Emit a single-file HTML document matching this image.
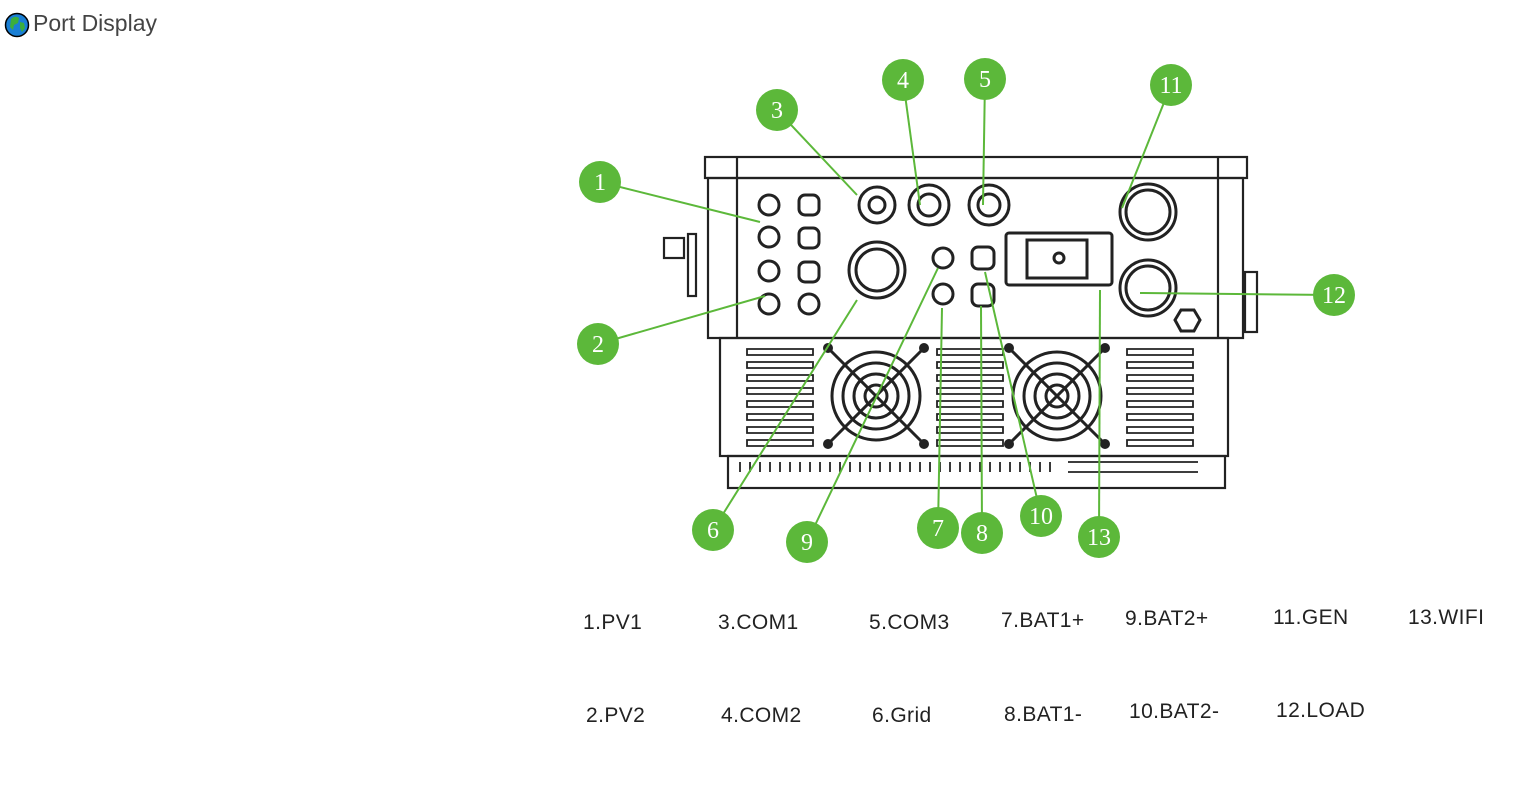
<!DOCTYPE html>
<html><head><meta charset="utf-8"><style>
body{margin:0;background:#fff;width:1515px;height:790px;overflow:hidden;position:relative;font-family:"Liberation Sans",sans-serif}
.h{position:absolute;left:33px;top:10px;font-size:23px;color:#444}
.l{position:absolute;font-size:21px;color:#222;letter-spacing:0.4px}
svg{position:absolute;left:0;top:0}
</style></head><body>
<svg width="1515" height="790" viewBox="0 0 1515 790">
<circle cx="17" cy="25" r="11.5" fill="#1a7fd4" stroke="#000" stroke-width="1.5"/>
<path d="M11 19 q4 -4 8 -1 l-1 5 -4 2 -1 5 -3 -3z M20 22 l4 1 1 5 -3 4 -2 -4z" fill="#3cae3c"/>
<g fill="none" stroke="#222" stroke-width="2.2">
<rect x="705" y="157" width="542" height="21"/>
<rect x="708" y="178" width="535" height="160"/>
<line x1="737" y1="157" x2="737" y2="338"/><line x1="1218" y1="157" x2="1218" y2="338"/>
<rect x="720" y="338" width="508" height="118"/>
<rect x="728" y="456" width="497" height="32"/>
<rect x="664" y="238" width="20" height="20"/><rect x="688" y="234" width="8" height="62"/>
<rect x="1245" y="272" width="12" height="60"/>
</g>
<g fill="none" stroke="#222" stroke-width="3">
<circle cx="769" cy="205" r="10"/><circle cx="769" cy="237" r="10"/><circle cx="769" cy="271" r="10"/><circle cx="769" cy="304" r="10"/>
<rect x="799" y="195" width="20" height="20" rx="6"/><rect x="799" y="228" width="20" height="20" rx="6"/><rect x="799" y="262" width="20" height="20" rx="6"/><circle cx="809" cy="304" r="10"/>
<circle cx="877" cy="205" r="18"/><circle cx="877" cy="205" r="8"/>
<circle cx="929" cy="205" r="20"/><circle cx="929" cy="205" r="11"/>
<circle cx="989" cy="205" r="20"/><circle cx="989" cy="205" r="11"/>
<circle cx="877" cy="270" r="28"/><circle cx="877" cy="270" r="21"/>
<circle cx="943" cy="258" r="10"/><circle cx="943" cy="294" r="10"/>
<rect x="972" y="247" width="22" height="22" rx="6"/><rect x="972" y="284" width="22" height="22" rx="6"/>
<rect x="1006" y="233" width="106" height="52" rx="3"/><rect x="1027" y="240" width="60" height="38"/><circle cx="1059" cy="258" r="5"/>
<circle cx="1148" cy="212" r="28"/><circle cx="1148" cy="212" r="22"/>
<circle cx="1148" cy="288" r="28"/><circle cx="1148" cy="288" r="22"/>
<polygon points="1181,310 1194,310 1200,320 1194,331 1181,331 1175,320"/>
<circle cx="876" cy="396" r="44"/><circle cx="876" cy="396" r="33"/><circle cx="876" cy="396" r="22"/><circle cx="876" cy="396" r="11"/>
<circle cx="1057" cy="396" r="44"/><circle cx="1057" cy="396" r="33"/><circle cx="1057" cy="396" r="22"/><circle cx="1057" cy="396" r="11"/>
<line x1="828" y1="348" x2="924" y2="444"/><line x1="924" y1="348" x2="828" y2="444"/>
<line x1="1009" y1="348" x2="1105" y2="444"/><line x1="1105" y1="348" x2="1009" y2="444"/>
</g>
<g fill="#222"><circle cx="828" cy="348" r="5"/><circle cx="924" cy="348" r="5"/><circle cx="828" cy="444" r="5"/><circle cx="924" cy="444" r="5"/><circle cx="1009" cy="348" r="5"/><circle cx="1105" cy="348" r="5"/><circle cx="1009" cy="444" r="5"/><circle cx="1105" cy="444" r="5"/></g>
<g fill="none" stroke="#222" stroke-width="1.8">
<path id="v" d="M747 349h66v6h-66z M747 362h66v6h-66z M747 375h66v6h-66z M747 388h66v6h-66z M747 401h66v6h-66z M747 414h66v6h-66z M747 427h66v6h-66z M747 440h66v6h-66z"/>
<use href="#v" x="190"/><use href="#v" x="380"/>
<path d="M740 462v10 M750 462v10 M760 462v10 M770 462v10 M780 462v10 M790 462v10 M800 462v10 M810 462v10 M820 462v10 M830 462v10 M840 462v10 M850 462v10 M860 462v10 M870 462v10 M880 462v10 M890 462v10 M900 462v10 M910 462v10 M920 462v10 M930 462v10 M940 462v10 M950 462v10 M960 462v10 M970 462v10 M980 462v10 M990 462v10 M1000 462v10 M1010 462v10 M1020 462v10 M1030 462v10 M1040 462v10 M1050 462v10 M1068 462h130 M1068 472h130"/>
</g>
<g stroke="#5cb83a" stroke-width="2">
<line x1="600" y1="182" x2="760" y2="222"/><line x1="598" y1="344" x2="765" y2="296"/>
<line x1="777" y1="110" x2="857" y2="195"/><line x1="903" y1="80" x2="920" y2="205"/>
<line x1="985" y1="79" x2="983" y2="205"/><line x1="1171" y1="85" x2="1122" y2="208"/>
<line x1="1334" y1="295" x2="1140" y2="293"/><line x1="713" y1="530" x2="857" y2="300"/>
<line x1="807" y1="542" x2="938" y2="268"/><line x1="938" y1="528" x2="942" y2="308"/>
<line x1="982" y1="533" x2="981" y2="306"/><line x1="1041" y1="516" x2="985" y2="272"/>
<line x1="1099" y1="537" x2="1100" y2="290"/>
</g>
<g fill="#5cb83a"><circle cx="600" cy="182" r="21"/><circle cx="598" cy="344" r="21"/><circle cx="777" cy="110" r="21"/><circle cx="903" cy="80" r="21"/><circle cx="985" cy="79" r="21"/><circle cx="1171" cy="85" r="21"/><circle cx="1334" cy="295" r="21"/><circle cx="713" cy="530" r="21"/><circle cx="807" cy="542" r="21"/><circle cx="938" cy="528" r="21"/><circle cx="982" cy="533" r="21"/><circle cx="1041" cy="516" r="21"/><circle cx="1099" cy="537" r="21"/></g>
<g fill="#fff" font-family="Liberation Serif,serif" font-size="24" text-anchor="middle">
<text x="600" y="190">1</text><text x="598" y="352">2</text><text x="777" y="118">3</text><text x="903" y="88">4</text><text x="985" y="87">5</text><text x="1171" y="93">11</text><text x="1334" y="303">12</text><text x="713" y="538">6</text><text x="807" y="550">9</text><text x="938" y="536">7</text><text x="982" y="541">8</text><text x="1041" y="524">10</text><text x="1099" y="545">13</text>
</g>
</svg>
<div class="h">Port Display</div>
<div class="l" style="left:583px;top:611px">1.PV1</div>
<div class="l" style="left:718px;top:611px">3.COM1</div>
<div class="l" style="left:869px;top:611px">5.COM3</div>
<div class="l" style="left:1001px;top:609px">7.BAT1+</div>
<div class="l" style="left:1125px;top:607px">9.BAT2+</div>
<div class="l" style="left:1273px;top:606px">11.GEN</div>
<div class="l" style="left:1408px;top:606px">13.WIFI</div>
<div class="l" style="left:586px;top:704px">2.PV2</div>
<div class="l" style="left:721px;top:704px">4.COM2</div>
<div class="l" style="left:872px;top:704px">6.Grid</div>
<div class="l" style="left:1004px;top:703px">8.BAT1-</div>
<div class="l" style="left:1129px;top:700px">10.BAT2-</div>
<div class="l" style="left:1276px;top:699px">12.LOAD</div>
</body></html>
